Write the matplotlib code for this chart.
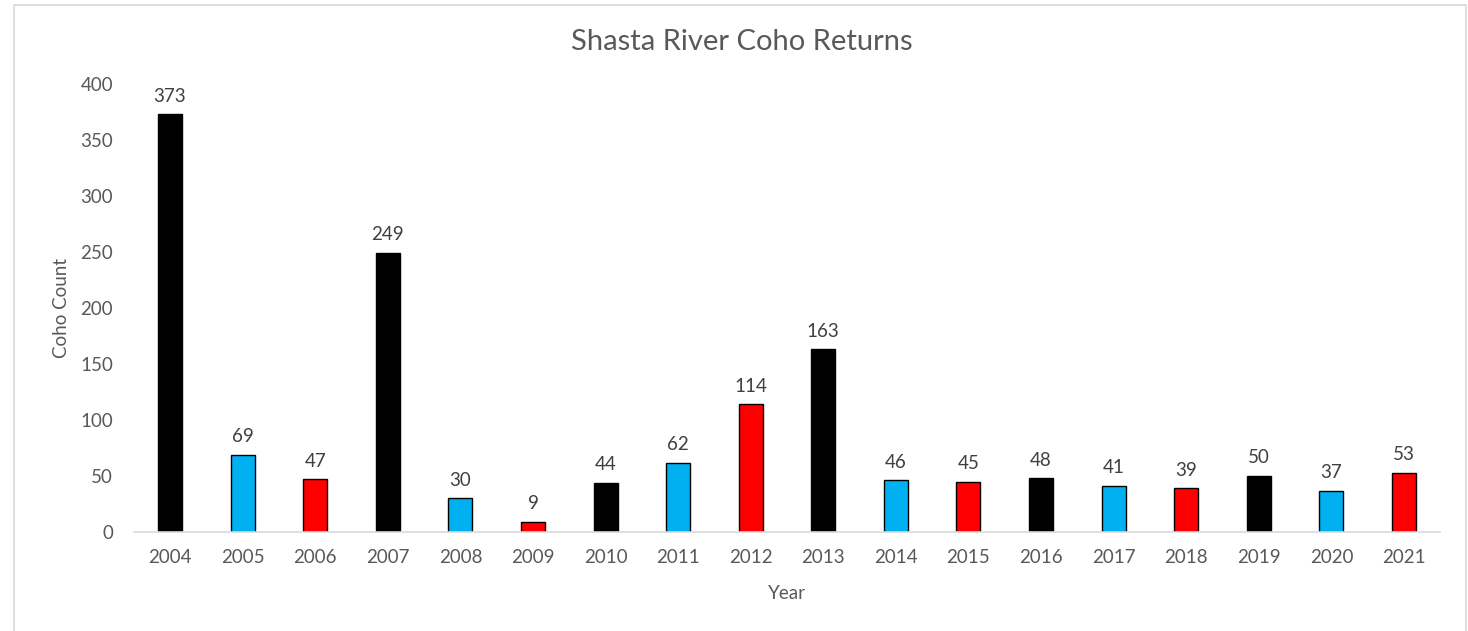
import matplotlib.pyplot as plt
from matplotlib.patches import Rectangle

## datos
years = [str(y) for y in range(2004, 2022)]
counts = [373, 69, 47, 249, 30, 9, 44, 62, 114, 163, 46, 45, 48, 41, 39, 50, 37, 53]
palette = ["#000000", "#00B0F0", "#FF0000"]
colors = [palette[i % 3] for i in range(len(years))]

plt.rcParams['font.family'] = ['Lato', 'DejaVu Sans']
gris = "#595959"

fig = plt.figure(figsize=(14.68, 6.31), dpi=100)
ax = fig.add_axes([0.0911, 0.1569, 0.89, 0.71])

bars = ax.bar(years, counts, width=0.33, color=colors, edgecolor="black", linewidth=1)
for b, v in zip(bars, counts):
    ax.annotate(str(v), (b.get_x() + b.get_width() / 2, v), xytext=(0, 7),
                textcoords="offset points", ha="center", va="bottom",
                fontsize=13.5, color="#404040")

ax.set_xlim(-0.5, len(years) - 0.5)
ax.set_ylim(0, 400)
ax.set_yticks(range(0, 401, 50))
ax.tick_params(axis="both", length=0, labelsize=13.5, labelcolor=gris)
ax.tick_params(axis="y", pad=15)
ax.tick_params(axis="x", pad=12)

for s in ["top", "right", "left"]:
    ax.spines[s].set_visible(False)
ax.spines["bottom"].set_color("#D9D9D9")
ax.spines["bottom"].set_linewidth(1.2)

ax.set_xlabel("Year", fontsize=13.5, color=gris, labelpad=14)
ax.set_ylabel("Coho Count", fontsize=13.5, color=gris, labelpad=7)
fig.text(0.505, 0.933, "Shasta River Coho Returns", ha="center", va="center",
         fontsize=21, color=gris)

# marco exterior
fig.patches.append(Rectangle((0.0095, -0.01), 0.989, 1.002, transform=fig.transFigure,
                             fill=False, edgecolor="#D9D9D9", linewidth=1.2))

fig.savefig("out.png", dpi=100)
